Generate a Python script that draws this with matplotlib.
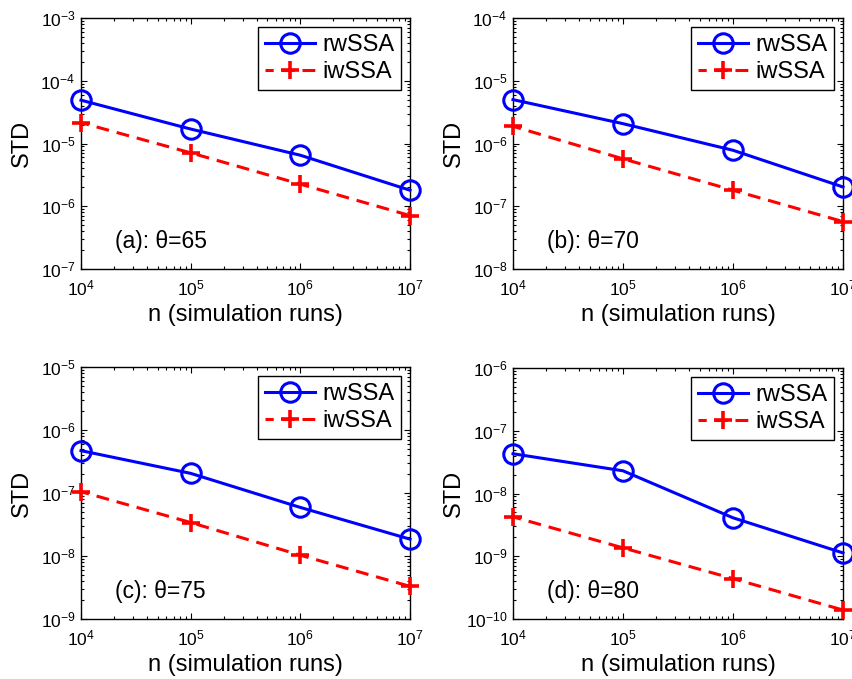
import numpy as np
import matplotlib
matplotlib.use("Agg")
import matplotlib.pyplot as plt
from matplotlib.ticker import LogLocator, LogFormatterSciNotation, NullFormatter

plt.rcParams['font.family'] = ['Liberation Sans', 'DejaVu Sans']
plt.rcParams['mathtext.fontset'] = 'custom'
plt.rcParams['mathtext.rm'] = 'Liberation Sans'
plt.rcParams['mathtext.it'] = 'Liberation Sans:italic'
plt.rcParams['mathtext.bf'] = 'Liberation Sans:bold'

# Number of simulation runs
n_runs = [1e4, 1e5, 1e6, 1e7]

# Standard deviation of the estimates, per threshold theta
rw_65 = [4.9e-5, 1.70e-5, 6.5e-6, 1.8e-6]
iw_65 = [2.15e-5, 7.1e-6, 2.25e-6, 7.1e-7]

rw_70 = [5.0e-6, 2.07e-6, 7.8e-7, 2.03e-7]
iw_70 = [1.88e-6, 5.7e-7, 1.8e-7, 5.7e-8]

rw_75 = [4.7e-7, 2.05e-7, 5.9e-8, 1.85e-8]
iw_75 = [1.05e-7, 3.4e-8, 1.03e-8, 3.3e-9]

rw_80 = [4.3e-8, 2.3e-8, 4.1e-9, 1.13e-9]
iw_80 = [4.25e-9, 1.36e-9, 4.4e-10, 1.39e-10]

panel_labels = ["(a): θ=65", "(b): θ=70", "(c): θ=75", "(d): θ=80"]
y_limits = [(1e-7, 1e-3), (1e-8, 1e-4), (1e-9, 1e-5), (1e-10, 1e-6)]
series_rw = [rw_65, rw_70, rw_75, rw_80]
series_iw = [iw_65, iw_70, iw_75, iw_80]

W, H = 852, 679
fig = plt.figure(figsize=(W / 100, H / 100), dpi=100)

# axes boxes in pixels: left, top, right, bottom
boxes = [(81, 18, 410, 269), (513, 18, 843, 269),
         (81, 367, 410, 619), (513, 368, 843, 619)]

for box, lab, ylim, rw, iw in zip(boxes, panel_labels, y_limits, series_rw, series_iw):
    l, t, r, b = box
    ax = fig.add_axes([l / W, (H - b) / H, (r - l) / W, (b - t) / H])
    ax.set_xscale('log')
    ax.set_yscale('log')
    ax.plot(n_runs, rw, color='#0000ff', lw=2.2, marker='o', ms=14,
            mfc='none', mew=2.2, label='rwSSA', clip_on=False, zorder=3)
    ax.plot(n_runs, iw, color='#ff0000', lw=2.2, ls=(1.5, (4.2, 2.6)), marker='+',
            ms=13, mew=2.6, label='iwSSA', clip_on=False, zorder=3)
    ax.set_xlim(1e4, 1e7)
    ax.set_ylim(*ylim)

    ax.xaxis.set_major_locator(LogLocator(base=10, numticks=10))
    ax.yaxis.set_major_locator(LogLocator(base=10, numticks=10))
    ax.xaxis.set_minor_locator(LogLocator(base=10, subs=np.arange(2, 10), numticks=20))
    ax.yaxis.set_minor_locator(LogLocator(base=10, subs=np.arange(2, 10), numticks=20))
    ax.xaxis.set_major_formatter(LogFormatterSciNotation())
    ax.yaxis.set_major_formatter(LogFormatterSciNotation())
    ax.xaxis.set_minor_formatter(NullFormatter())
    ax.yaxis.set_minor_formatter(NullFormatter())

    ax.tick_params(which='both', direction='in', top=True, right=True,
                   width=0.8, colors='black', labelsize=12.5)
    ax.tick_params(which='major', length=4)
    ax.tick_params(which='minor', length=2)
    ax.tick_params(axis='x', which='major', pad=7)
    ax.tick_params(axis='y', which='major', pad=4)
    for tl in ax.get_yticklabels():
        tl.set_verticalalignment('center_baseline')
    for sp in ax.spines.values():
        sp.set_linewidth(1.0)
        sp.set_color('black')

    ax.set_xlabel('n (simulation runs)', fontsize=17)
    ax.set_ylabel('STD', fontsize=17)
    ax.xaxis.set_label_coords(0.5, -0.138)
    ax.yaxis.set_label_coords(-0.146, 0.5)

    ax.text(0.103, 0.11, lab, transform=ax.transAxes, fontsize=16.5,
            va='center', ha='left')

    leg = ax.legend(loc='upper right', bbox_to_anchor=(0.973, 0.964),
                    borderaxespad=0, fontsize=17, fancybox=False,
                    edgecolor='black', framealpha=1, handlelength=2.1,
                    handletextpad=0.3, labelspacing=0.22, borderpad=0.3)
    leg.get_frame().set_linewidth(1.0)

fig.savefig('out.png', dpi=100)
